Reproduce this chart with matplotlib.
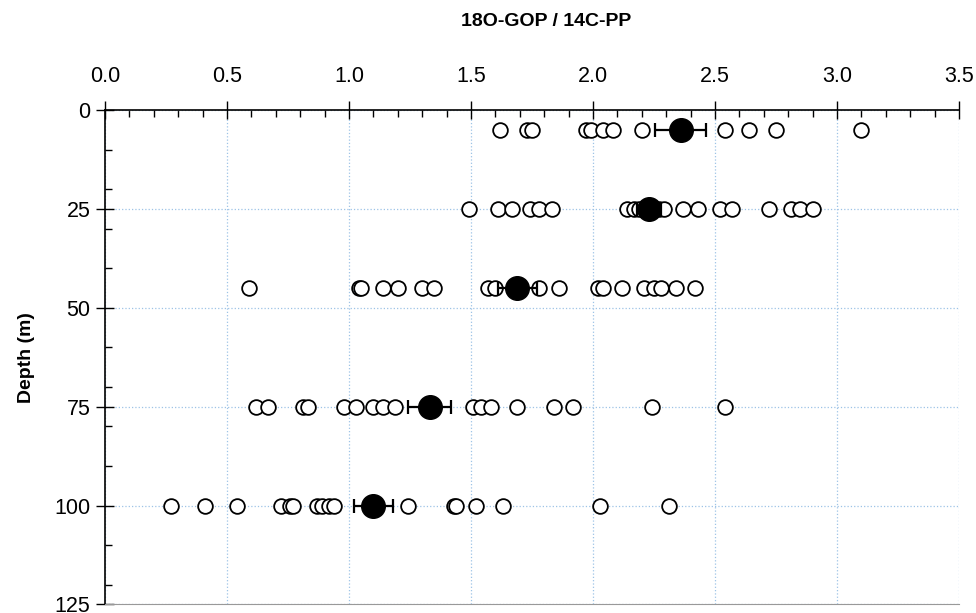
import matplotlib
matplotlib.use('Agg')
import matplotlib.pyplot as plt
from matplotlib.ticker import MultipleLocator

plt.rcParams['font.family'] = ['Liberation Sans', 'DejaVu Sans']

# individual ratios at each depth
depths = [5, 25, 45, 75, 100]
ratios_5 = [1.62, 1.73, 1.75, 1.97, 1.99, 2.04, 2.08, 2.20, 2.54, 2.64, 2.75, 3.10]
ratios_25 = [1.49, 1.61, 1.67, 1.74, 1.78, 1.83, 2.14, 2.17, 2.19, 2.27, 2.29,
             2.37, 2.43, 2.52, 2.57, 2.72, 2.81, 2.85, 2.90]
ratios_45 = [0.59, 1.04, 1.05, 1.14, 1.20, 1.30, 1.35, 1.57, 1.60, 1.78, 1.86,
             2.02, 2.04, 2.12, 2.21, 2.25, 2.28, 2.34, 2.42]
ratios_75 = [0.62, 0.67, 0.81, 0.83, 0.98, 1.03, 1.10, 1.14, 1.19, 1.51, 1.54,
             1.58, 1.69, 1.84, 1.92, 2.24, 2.54]
ratios_100 = [0.27, 0.41, 0.54, 0.72, 0.76, 0.77, 0.87, 0.89, 0.92, 0.94, 1.24,
              1.43, 1.44, 1.52, 1.63, 2.03, 2.31]
all_ratios = [ratios_5, ratios_25, ratios_45, ratios_75, ratios_100]

# mean and standard error per depth
mean_ratio = [2.36, 2.23, 1.69, 1.33, 1.10]
err_ratio = [0.105, 0.05, 0.08, 0.09, 0.08]

fig = plt.figure(figsize=(9.76, 6.13), dpi=100)
ax = fig.add_axes([0.1076, 0.014, 0.875, 0.8065])

for d, vals in zip(depths, all_ratios):
    ax.scatter(vals, [d] * len(vals), s=112, facecolors='white',
               edgecolors='black', linewidths=1.3, zorder=3)

ax.errorbar(mean_ratio, depths, xerr=err_ratio, fmt='o', color='black',
            markersize=17, ecolor='black', elinewidth=1.6, capsize=5,
            capthick=1.6, zorder=4)

ax.set_xlim(0, 3.5)
ax.set_ylim(125, 0)
ax.xaxis.set_major_locator(MultipleLocator(0.5))
ax.xaxis.set_minor_locator(MultipleLocator(0.1))
ax.yaxis.set_major_locator(MultipleLocator(25))
ax.yaxis.set_minor_locator(MultipleLocator(10))
ax.xaxis.set_major_formatter(plt.FormatStrFormatter('%.1f'))

ax.xaxis.tick_top()
ax.xaxis.set_label_position('top')
ax.tick_params(axis='x', which='major', direction='inout', length=13, width=1,
               labelsize=15.5, pad=10)
ax.tick_params(axis='x', which='minor', direction='in', length=5, width=1)
ax.tick_params(axis='y', which='major', direction='inout', length=13, width=1,
               labelsize=15.5, pad=4)
ax.tick_params(axis='y', which='minor', direction='in', length=5, width=1)

ax.grid(True, which='major', color='#9dc3e6', linestyle=':', linewidth=0.9)
ax.set_axisbelow(True)

ax.spines['right'].set_visible(False)
ax.spines['bottom'].set_color('#999999')
ax.spines['left'].set_linewidth(1.2)
ax.spines['top'].set_linewidth(1.2)

ax.set_ylabel('Depth (m)', fontsize=14, fontweight='bold', labelpad=14)
fig.text(0.56, 0.965, '18O-GOP / 14C-PP', ha='center', va='center',
         fontsize=14, fontweight='bold')

fig.savefig('out.png', dpi=100)
